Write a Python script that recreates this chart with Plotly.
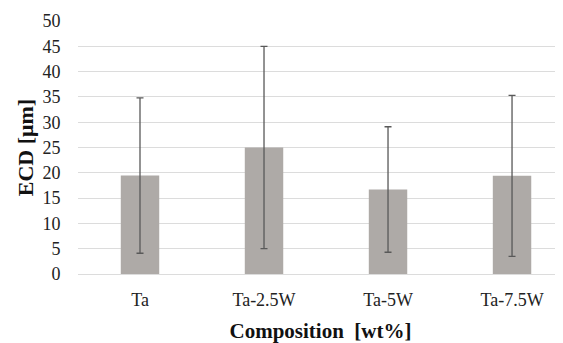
import plotly.graph_objects as go

categories = ["Ta", "Ta-2.5W", "Ta-5W", "Ta-7.5W"]
ecd_mean = [19.45, 25.0, 16.7, 19.4]
ecd_err = [15.35, 20.0, 12.4, 15.9]
y_ticks = [0, 5, 10, 15, 20, 25, 30, 35, 40, 45, 50]

SERIF = "Liberation Serif"


def serif(t):
    return "<span style='font-family:\"Liberation Serif\", serif'>" + t + "</span>"


fig = go.Figure(
    go.Bar(
        x=list(range(len(categories))),
        y=ecd_mean,
        marker=dict(color="#aeaaa7", line=dict(width=0)),
        error_y=dict(type="data", array=ecd_err, visible=True,
                     color="#595959", thickness=1.3, width=3.5),
    )
)

fig.update_layout(
    width=555, height=335,
    margin=dict(l=70, r=0, t=13, b=69),
    paper_bgcolor="white", plot_bgcolor="white",
    bargap=0.69,
    showlegend=False,
    font=dict(family=SERIF, color="#222222", size=18),
    xaxis=dict(
        tickmode="array",
        tickvals=list(range(len(categories))),
        ticktext=[serif(c) for c in categories],
        range=[-0.5, 3.411],
        showgrid=False, zeroline=False, showline=False,
        ticks="outside", ticklen=9, tickcolor="rgba(0,0,0,0)",
        tickfont=dict(size=18, family=SERIF, color="#222222"),
        title=dict(text="<b>Composition  [wt%]</b>", standoff=14,
                   font=dict(size=21, family=SERIF, color="#111111")),
    ),
    yaxis=dict(
        range=[0, 50],
        tickmode="array",
        tickvals=y_ticks,
        ticktext=[serif(str(v)) for v in y_ticks],
        showgrid=True, gridcolor="#dcdcdc", gridwidth=1,
        zeroline=True, zerolinecolor="#dcdcdc", zerolinewidth=1,
        showline=False, ticks="outside", ticklen=13, tickcolor="rgba(0,0,0,0)",
        tickfont=dict(size=18, family=SERIF, color="#222222"),
        title=dict(text="<b>ECD [μm]</b>", standoff=2,
                   font=dict(size=22, family=SERIF, color="#111111")),
    ),
)

fig.write_html("out.html")
